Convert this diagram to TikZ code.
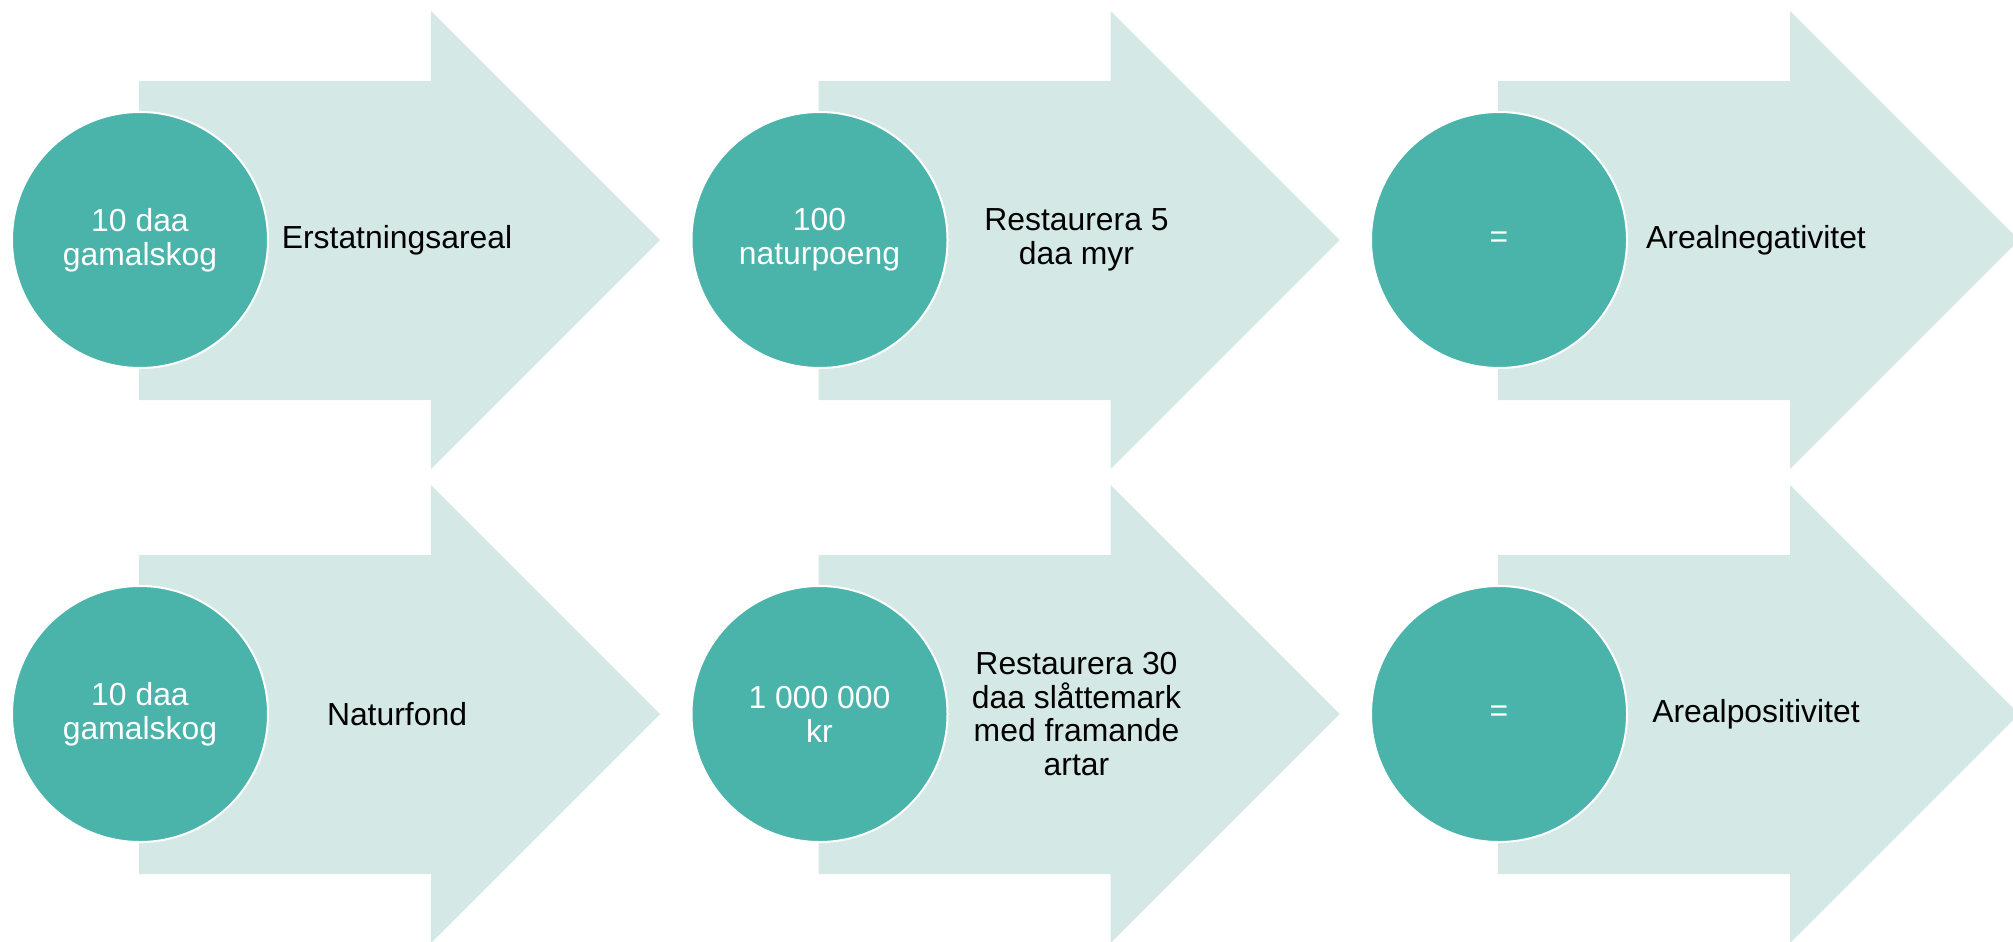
\documentclass[tikz,border=0pt]{standalone}
\usepackage{fontspec}
\setmainfont{Liberation Sans}
\definecolor{arrowfill}{RGB}{212,232,229}
\definecolor{circfill}{RGB}{74,179,170}
\tikzset{
  bigarrow/.style={fill=arrowfill, draw=none},
  circnode/.style={circle, minimum size=256bp, inner sep=0pt, fill=circfill, draw=white, line width=2bp,
    text=white, align=center, font=\fontsize{32}{34}\selectfont},
  labelnode/.style={align=center, text=black, inner sep=0pt, font=\fontsize{32}{34}\selectfont}
}
\newcommand{\arrowshape}[2]{% #1 = x offset, #2 = center y
  \fill[bigarrow] ({139+#1},{#2-159}) -- ({431+#1},{#2-159}) -- ({431+#1},{#2-229}) -- ({660+#1},{#2})
    -- ({431+#1},{#2+229}) -- ({431+#1},{#2+160}) -- ({139+#1},{#2+160}) -- cycle;}
\begin{document}
\begin{tikzpicture}[x=1bp,y=-1bp]
\useasboundingbox (0,0) rectangle (2013,942);
\clip (0,0) rectangle (2013,942);
% row 1
\arrowshape{0}{240}
\arrowshape{679.5}{240}
\arrowshape{1359}{240}
\node[circnode] (c11) at (140,240) {10 daa\\gamalskog};
\node[labelnode] (t11) at (397,240) {Erstatningsareal};
\node[circnode] (c12) at (819.5,240) {100\\naturpoeng};
\node[labelnode] (t12) at (1076.5,240) {Restaurera 5\\daa myr};
\node[circnode] (c13) at (1499,240) {=};
\node[labelnode] (t13) at (1756,240) {Arealnegativitet};
% row 2
\arrowshape{0}{714}
\arrowshape{679.5}{714}
\arrowshape{1359}{714}
\node[circnode] (c21) at (140,714) {10 daa\\gamalskog};
\node[labelnode] (t21) at (397,714) {Naturfond};
\node[circnode] (c22) at (819.5,714) {1 000 000\\kr};
\node[labelnode] (t22) at (1076.5,714) {Restaurera 30\\daa slåttemark\\med framande\\artar};
\node[circnode] (c23) at (1499,714) {=};
\node[labelnode] (t23) at (1756,714) {Arealpositivitet};
\end{tikzpicture}
\end{document}
